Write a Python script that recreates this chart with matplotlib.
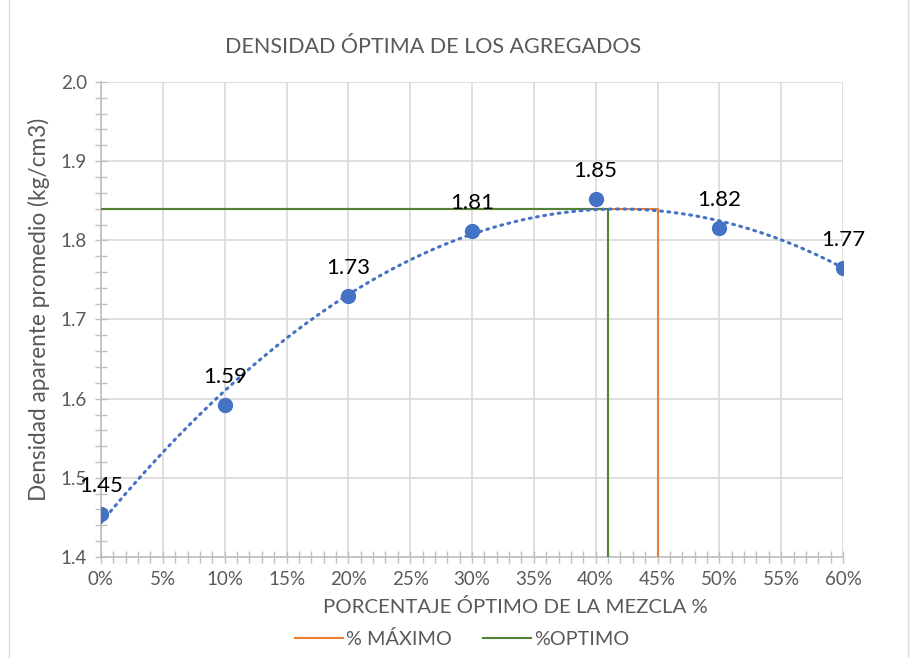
import numpy as np
import matplotlib.pyplot as plt
from matplotlib.ticker import MultipleLocator, FuncFormatter
from matplotlib.patches import Rectangle

plt.rcParams['font.family'] = ['Lato', 'DejaVu Sans']

# datos
porcentaje = [0, 10, 20, 30, 40, 50, 60]
densidad = [1.454, 1.592, 1.730, 1.812, 1.852, 1.816, 1.765]
etiquetas = ['1.45', '1.59', '1.73', '1.81', '1.85', '1.82', '1.77']

pct_maximo = [0, 45, 45]
dens_maximo = [1.84, 1.84, 1.4]
pct_optimo = [0, 41, 41]
dens_optimo = [1.84, 1.84, 1.4]

gris = '#595959'
azul = '#4472C4'

fig = plt.figure(figsize=(9.18, 6.58), dpi=100)
ax = fig.add_axes([101/918, 1 - 557/658, 742/918, 475/658])

# lineas de referencia
ax.plot(pct_maximo, dens_maximo, color='#ED7D31', lw=1.5, label='% MÁXIMO', zorder=3)
ax.plot(pct_optimo, dens_optimo, color='#548235', lw=1.5, label='%OPTIMO', zorder=4)

# linea de tendencia polinomica
coef = np.polyfit(porcentaje, densidad, 2)
xt = np.linspace(0, 60, 300)
ax.plot(xt, np.polyval(coef, xt), color=azul, lw=2.2, ls=(0, (0.6, 1.8)),
        dash_capstyle='round', zorder=5)

ax.plot(porcentaje, densidad, 'o', color=azul, ms=10, zorder=6)
for x, y, t in zip(porcentaje, densidad, etiquetas):
    ax.annotate(t, (x, y), xytext=(0, 13), textcoords='offset points',
                ha='center', va='bottom', fontsize=16, color='black', zorder=7)

ax.set_xlim(0, 60)
ax.set_ylim(1.4, 2.0)
ax.xaxis.set_major_locator(MultipleLocator(5))
ax.xaxis.set_minor_locator(MultipleLocator(1))
ax.yaxis.set_major_locator(MultipleLocator(0.1))
ax.yaxis.set_minor_locator(MultipleLocator(0.02))
ax.xaxis.set_major_formatter(FuncFormatter(lambda v, p: f'{v:.0f}%'))
ax.yaxis.set_major_formatter(FuncFormatter(lambda v, p: f'{v:.1f}'))
ax.grid(True, which='major', color='#D9D9D9', lw=1.2)
ax.set_axisbelow(True)
for s in ['top', 'right']:
    ax.spines[s].set_visible(False)
for s in ['left', 'bottom']:
    ax.spines[s].set_color('#BFBFBF')
    ax.spines[s].set_linewidth(1.2)
ax.tick_params(which='both', direction='inout', color='#BFBFBF', labelcolor=gris,
               labelsize=13.5, width=1)
ax.tick_params(which='major', length=8, pad=6)
ax.tick_params(which='minor', length=8)

fig.text(515/918, 1 - 607/658, 'PORCENTAJE ÓPTIMO DE LA MEZCLA %', ha='center', va='center',
         fontsize=14.7, color=gris)
fig.text(39/918, 1 - 309/658, 'Densidad aparente promedio (kg/cm3)', ha='center', va='center',
         rotation=90, fontsize=16.3, color=gris)

fig.text(433/918, 1 - 47/658, 'DENSIDAD ÓPTIMA DE LOS AGREGADOS', ha='center', va='center',
         fontsize=15.5, color=gris)

fig.legend(loc='center', bbox_to_anchor=(462/918, 1 - 639/658), ncol=2, frameon=False,
           fontsize=14.3, labelcolor=gris, handlelength=2.4, columnspacing=1.6,
           handletextpad=0.15)

fig.patches.append(Rectangle((9/918, -0.01), 899/918, 1.02, transform=fig.transFigure,
                             fill=False, edgecolor='#D9D9D9', lw=1))

fig.savefig('out.png', dpi=100)
